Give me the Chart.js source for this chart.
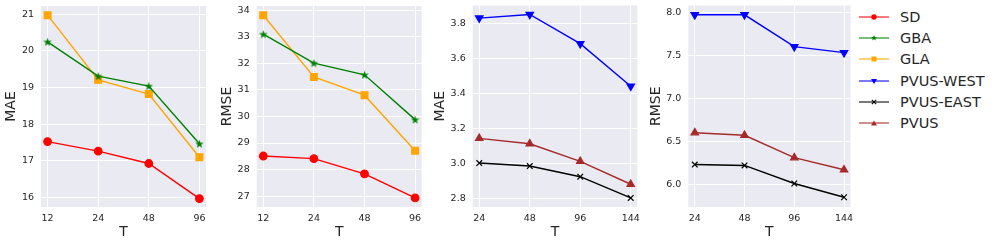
<!DOCTYPE html>
<html lang="en">
<head>
  <meta charset="UTF-8">
  <title>MAE / RMSE vs T</title>
  <script src="https://cdn.jsdelivr.net/npm/chart.js"></script>
  <style>
    body { margin: 0; background: #fff; }
    #wrap { position: relative; width: 997px; height: 245px; overflow: hidden; }
    #wrap canvas { position: absolute; top: 0; }
    #legend { position: absolute; left: 858px; top: 6px; font-family: "DejaVu Sans", sans-serif; font-size: 14.5px; color: #262626; }
    .item { height: 21.3px; display: flex; align-items: center; }
    .item svg { margin-right: 10px; }
  </style>
</head>
<body>
<div id="wrap">
  <canvas id="c1"></canvas>
  <canvas id="c2"></canvas>
  <canvas id="c3"></canvas>
  <canvas id="c4"></canvas>
  <div id="legend"></div>
</div>

<script>
// horizons on the x axis
const horizonsGrid = ['12', '24', '48', '96'];
const horizonsSolar = ['24', '48', '96', '144'];

// left two panels
const sdMae  = [17.52, 17.26, 16.92, 15.96];
const gbaMae = [20.25, 19.31, 19.04, 17.46];
const glaMae = [20.98, 19.21, 18.82, 17.09];
const sdRmse  = [28.51, 28.41, 27.84, 26.93];
const gbaRmse = [33.10, 32.01, 31.57, 29.88];
const glaRmse = [33.81, 31.49, 30.80, 28.71];

// right two panels
const westMae = [3.833, 3.854, 3.687, 3.444];
const eastMae = [3.005, 2.988, 2.927, 2.806];
const pvusMae = [3.146, 3.115, 3.015, 2.884];
const westRmse = [7.97, 7.97, 7.60, 7.53];
const eastRmse = [6.23, 6.22, 6.01, 5.85];
const pvusRmse = [6.60, 6.57, 6.31, 6.17];

// y tick labels
const maeTicksGrid = [16, 17, 18, 19, 20, 21];
const rmseTicksGrid = [27, 28, 29, 30, 31, 32, 33, 34];
const maeTicksSolar = [2.8, 3.0, 3.2, 3.4, 3.6, 3.8];
const rmseTicksSolar = [6.0, 6.5, 7.0, 7.5, 8.0];

const FONT = '"DejaVu Sans", sans-serif';
const INK = '#262626';

// matplotlib-like filled star, Chart.js only has an asterisk
function starImage(size, color) {
  const c = document.createElement('canvas');
  c.width = size; c.height = size;
  const g = c.getContext('2d');
  const R = size / 2, r = R * 0.4;
  g.beginPath();
  for (let i = 0; i < 10; i++) {
    const rad = i % 2 ? r : R;
    const a = -Math.PI / 2 + i * Math.PI / 5;
    g.lineTo(R + rad * Math.cos(a), R + rad * Math.sin(a) + R * 0.1);
  }
  g.closePath();
  g.fillStyle = color;
  g.fill();
  return c;
}

const styles = {
  'SD':        { color: 'red',     point: 'circle',   radius: 3.8 },
  'GBA':       { color: 'green',   point: starImage(9, 'green'), radius: 4.5 },
  'GLA':       { color: 'orange',  point: 'rect',     radius: 4.8 },
  'PVUS-WEST': { color: 'blue',    point: 'triangle', radius: 4.3, rot: 180 },
  'PVUS-EAST': { color: 'black',   point: 'crossRot', radius: 4 },
  'PVUS':      { color: '#a52a2a', point: 'triangle', radius: 4.3 }
};

function ds(name, values) {
  const s = styles[name];
  return {
    label: name,
    data: values.map((v, i) => ({ x: i, y: v })),
    borderColor: s.color,
    backgroundColor: s.color,
    pointBackgroundColor: s.color,
    pointBorderColor: s.color,
    borderWidth: 1.4,
    pointBorderWidth: 1.2,
    pointStyle: s.point,
    pointRadius: s.radius,
    pointRotation: s.rot || 0,
    tension: 0
  };
}

const panels = [
  { id: 'c1', left: 0,   width: 212, plotLeft: 41,    plotRight: 206,   titlePad: 3.1, yLabel: 'MAE',
    yMin: 15.73, yMax: 21.23, yTicks: maeTicksGrid, fmt: v => String(v), xLabels: horizonsGrid,
    series: [ds('SD', sdMae), ds('GBA', gbaMae), ds('GLA', glaMae)] },
  { id: 'c2', left: 214, width: 214, plotLeft: 256.7, plotRight: 421.7, titlePad: 5.1, yLabel: 'RMSE',
    yMin: 26.59, yMax: 34.16, yTicks: rmseTicksGrid, fmt: v => String(v), xLabels: horizonsGrid,
    series: [ds('SD', sdRmse), ds('GBA', gbaRmse), ds('GLA', glaRmse)] },
  { id: 'c3', left: 430, width: 213, plotLeft: 472.7, plotRight: 637.3, titlePad: 2.1, yLabel: 'MAE',
    yMin: 2.754, yMax: 3.905, yTicks: maeTicksSolar, fmt: v => v.toFixed(1), xLabels: horizonsSolar,
    series: [ds('PVUS-WEST', westMae), ds('PVUS-EAST', eastMae), ds('PVUS', pvusMae)] },
  { id: 'c4', left: 645, width: 211, plotLeft: 688.3, plotRight: 853.3, titlePad: 3.4, yLabel: 'RMSE',
    yMin: 5.737, yMax: 8.078, yTicks: rmseTicksSolar, fmt: v => v.toFixed(1), xLabels: horizonsSolar,
    series: [ds('PVUS-WEST', westRmse), ds('PVUS-EAST', eastRmse), ds('PVUS', pvusRmse)] }
];

// seaborn darkgrid background behind the plot area
const bgPlugin = {
  id: 'bg',
  beforeDraw(chart) {
    const a = chart.chartArea, g = chart.ctx;
    g.save();
    g.fillStyle = '#eaeaf2';
    g.fillRect(a.left, a.top, a.right - a.left, a.bottom - a.top);
    g.restore();
  }
};

panels.forEach(p => {
  const cv = document.getElementById(p.id);
  cv.width = p.width; cv.height = 245;
  cv.style.left = p.left + 'px';
  new Chart(cv, {
    type: 'line',
    data: { datasets: p.series },
    plugins: [bgPlugin],
    options: {
      responsive: false,
      animation: false,
      layout: { padding: { top: 5, right: p.left + p.width - p.plotRight, bottom: 0, left: 0 } },
      plugins: { legend: { display: false }, tooltip: { enabled: false } },
      scales: {
        x: {
          type: 'linear', min: -0.13, max: 3.13,
          afterBuildTicks: s => { s.ticks = p.xLabels.map((_, i) => ({ value: i })); },
          afterFit: s => { s.height = 38; s.paddingLeft = 0; s.paddingRight = 0; },
          grid: { color: '#fff', lineWidth: 1, drawTicks: false },
          border: { display: false },
          ticks: { padding: 6, color: INK, font: { family: FONT, size: 9.5 },
                   callback: v => p.xLabels[v], maxRotation: 0 },
          title: { display: true, text: 'T', color: INK, font: { family: FONT, size: 14 },
                   padding: { top: 0, bottom: 4.5 } }
        },
        y: {
          min: p.yMin, max: p.yMax,
          afterBuildTicks: s => { s.ticks = p.yTicks.map(v => ({ value: v })); },
          afterFit: s => { s.width = p.plotLeft - p.left; s.paddingTop = 0; s.paddingBottom = 0; },
          grid: { color: '#fff', lineWidth: 1, drawTicks: false },
          border: { display: false },
          ticks: { padding: 7, color: INK, font: { family: FONT, size: 9.5 }, callback: v => p.fmt(v) },
          title: { display: true, text: p.yLabel, color: INK, font: { family: FONT, size: 14 },
                   padding: { top: p.titlePad, bottom: 0 } }
        }
      }
    }
  });
});

// legend, matplotlib style: short line with the marker in the middle
const markerSvg = {
  'SD':        c => `<circle cx="16" cy="7" r="2.7" fill="${c}"/>`,
  'GBA':       c => `<polygon points="16,4 16.8,6.1 19,6.1 17.2,7.5 17.9,9.6 16,8.3 14.1,9.6 14.8,7.5 13,6.1 15.2,6.1" fill="${c}"/>`,
  'GLA':       c => `<rect x="13.5" y="4.5" width="5" height="5" fill="${c}"/>`,
  'PVUS-WEST': c => `<polygon points="13,5 19,5 16,10" fill="${c}"/>`,
  'PVUS-EAST': c => `<path d="M13.8,4.8 L18.2,9.2 M18.2,4.8 L13.8,9.2" stroke="${c}" stroke-width="1.1"/>`,
  'PVUS':      c => `<polygon points="13,9.5 19,9.5 16,4.5" fill="${c}"/>`
};
const legend = document.getElementById('legend');
Object.keys(styles).forEach(name => {
  const c = styles[name].color;
  const row = document.createElement('div');
  row.className = 'item';
  row.innerHTML = `<svg width="32" height="14"><line x1="1" y1="7" x2="31" y2="7" stroke="${c}" stroke-width="1.4" stroke-opacity="0.75"/>${markerSvg[name](c)}</svg><span>${name}</span>`;
  legend.appendChild(row);
});
</script>
</body>
</html>
